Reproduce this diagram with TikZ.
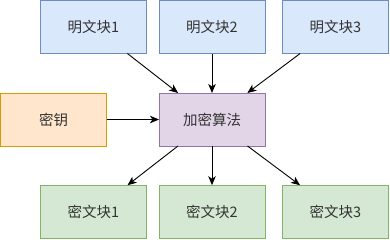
\documentclass[tikz,border=0pt]{standalone}
\usepackage{fontspec}
\setmainfont{Noto Sans CJK SC}
\usetikzlibrary{arrows.meta}
\definecolor{bluefill}{HTML}{DAE8FC}\definecolor{bluedraw}{HTML}{6C8EBF}
\definecolor{orangefill}{HTML}{FFE6CC}\definecolor{orangedraw}{HTML}{D79B00}
\definecolor{purplefill}{HTML}{E1D5E7}\definecolor{purpledraw}{HTML}{9673A6}
\definecolor{greenfill}{HTML}{D5E8D4}\definecolor{greendraw}{HTML}{82B366}
\definecolor{txt}{HTML}{333333}
\tikzset{
  box/.style={rectangle, minimum width=106pt, minimum height=53pt, inner sep=0pt, outer sep=0pt, line width=0.9pt, font=\fontsize{14.5pt}{16pt}\selectfont, text=txt},
  plainbox/.style={box, fill=bluefill, draw=bluedraw},
  keybox/.style={box, fill=orangefill, draw=orangedraw},
  algbox/.style={box, fill=purplefill, draw=purpledraw},
  cipherbox/.style={box, fill=greenfill, draw=greendraw},
  conn/.style={line width=0.9pt, -{Stealth[length=9pt,width=7.5pt,inset=2.5pt]}}
}
\begin{document}
\begin{tikzpicture}[x=1pt,y=-1pt]
\useasboundingbox (0,0) rectangle (390,239);
\node[plainbox] (m1) at (93.5,27) {明文块1};
\node[plainbox] (m2) at (212,27) {明文块2};
\node[plainbox] (m3) at (335.5,27) {明文块3};
\node[keybox] (key) at (53.7,119.5) {密钥};
\node[algbox] (alg) at (212,119.5) {加密算法};
\node[cipherbox] (c1) at (93.5,211.7) {密文块1};
\node[cipherbox] (c2) at (212,211.7) {密文块2};
\node[cipherbox] (c3) at (335.5,211.7) {密文块3};
\draw[conn] (m1) -- (alg);
\draw[conn] (m2) -- (alg);
\draw[conn] (m3) -- (alg);
\draw[conn] (key) -- (alg);
\draw[conn] (alg) -- (c1);
\draw[conn] (alg) -- (c2);
\draw[conn] (alg) -- (c3);
\end{tikzpicture}
\end{document}
